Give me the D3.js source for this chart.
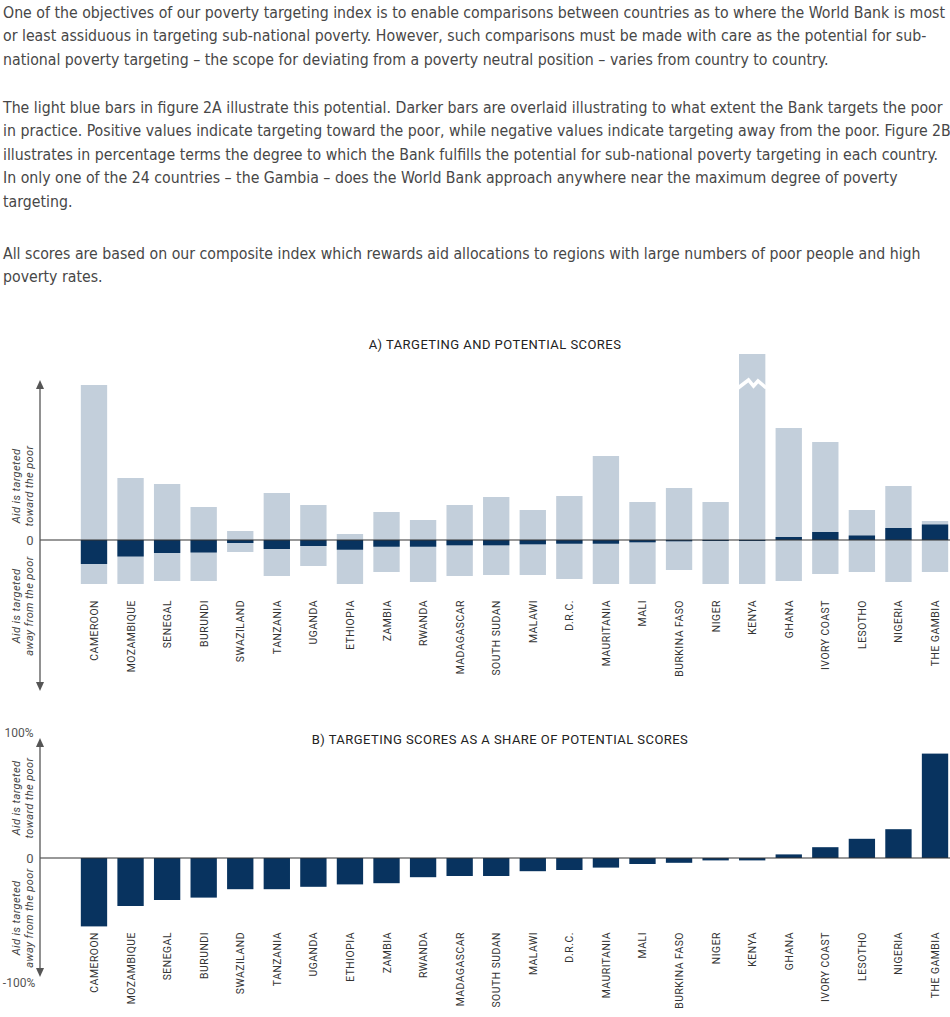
<!DOCTYPE html>
<html>
<head>
<meta charset="utf-8">
<script src="https://cdn.jsdelivr.net/npm/d3@7"></script>
<style>
  body { margin: 0; background: #fff; }
  svg { display: block; }
</style>
</head>
<body>
<script>
const countries = ["CAMEROON", "MOZAMBIQUE", "SENEGAL", "BURUNDI", "SWAZILAND", "TANZANIA", "UGANDA",
  "ETHIOPIA", "ZAMBIA", "RWANDA", "MADAGASCAR", "SOUTH SUDAN", "MALAWI", "D.R.C.", "MAURITANIA",
  "MALI", "BURKINA FASO", "NIGER", "KENYA", "GHANA", "IVORY COAST", "LESOTHO", "NIGERIA", "THE GAMBIA"];

// A) potential toward the poor (up), potential away from the poor (down), actual targeting
const potentialUp = [155, 62, 56, 33, 9, 47, 35, 6, 28, 20, 35, 43, 30, 44, 84, 38, 52, 38, 240, 112, 98, 30, 54, 19];
const potentialDown = [-44, -44, -41, -41, -12, -36, -26, -44, -32, -42, -36, -35, -35, -39, -44, -44, -30, -44, -44, -41, -34, -32, -42, -32];
const targeting = [-24, -16.5, -13, -12.5, -3, -9, -6, -9.7, -6.7, -6.7, -5.3, -5.3, -4.3, -3.7, -3.7, -2.3, -1.3, -0.9, -0.6, 3, 8, 4.5, 12, 15.5];

// B) targeting as a share of potential (%)
const share = [-57, -40, -35, -33, -26, -26, -24, -22, -21, -16, -15, -15, -11, -10, -8, -5, -4, -2, -2, 3, 9, 16, 24, 87];
const shareTicks = [{ v: 100, t: "100%" }, { v: 0, t: "0" }, { v: -100, t: "-100%" }];

const intro = [
  ["One of the objectives of our poverty targeting index is to enable comparisons between countries as to where the World Bank is most",
   "or least assiduous in targeting sub-national poverty. However, such comparisons must be made with care as the potential for sub-",
   "national poverty targeting – the scope for deviating from a poverty neutral position – varies from country to country."],
  ["The light blue bars in figure 2A illustrate this potential. Darker bars are overlaid illustrating to what extent the Bank targets the poor",
   "in practice. Positive values indicate targeting toward the poor, while negative values indicate targeting away from the poor. Figure 2B",
   "illustrates in percentage terms the degree to which the Bank fulfills the potential for sub-national poverty targeting in each country.",
   "In only one of the 24 countries – the Gambia – does the World Bank approach anywhere near the maximum degree of poverty",
   "targeting."],
  ["All scores are based on our composite index which rewards aid allocations to regions with large numbers of poor people and high",
   "poverty rates."]
];
const introTops = [18, 113, 259];

const rows = countries.map((c, i) => ({
  c, up: potentialUp[i], down: potentialDown[i], t: targeting[i], s: share[i]
}));

const W = 950, H = 1017;
const light = "#c3cfdb", dark = "#08335f", ink = "#333";
const font = "Roboto, 'Open Sans', sans-serif";

const svg = d3.select("body").append("svg").attr("width", W).attr("height", H);

// ---- intro text ----
const txt = svg.append("g").attr("class", "intro");
intro.forEach((para, p) => {
  para.forEach((line, k) => {
    txt.append("text")
      .attr("x", 0)
      .attr("y", introTops[p] + k * 23.4)
      .style("font-family", "'Liberation Sans Narrow', 'DejaVu Sans Condensed', sans-serif")
      .style("font-size", "15.5px")
      .style("fill", "#474747")
      .text(line);
  });
});
const firstW = txt.select("text").node().getComputedTextLength();
txt.attr("transform", `translate(3,0) scale(${943 / firstW},1)`);

// ---- shared x ----
const x = d3.scaleBand()
  .domain(countries)
  .range([75.7, 953.3])
  .paddingInner(0.28)
  .paddingOuter(0.14);

function arrowAxis(g, y0, y1) {
  g.append("line")
    .attr("x1", 40).attr("x2", 40).attr("y1", y0 + 6).attr("y2", y1 - 6)
    .attr("stroke", "#555").attr("stroke-width", 1.3);
  g.append("path").attr("d", `M40,${y0} L36,${y0 + 9} L44,${y0 + 9} Z`).attr("fill", "#555");
  g.append("path").attr("d", `M40,${y1} L36,${y1 - 9} L44,${y1 - 9} Z`).attr("fill", "#555");
}

function sideLabels(g, yTop, yBot) {
  [[yTop, ["Aid is targeted", "toward the poor"]], [yBot, ["Aid is targeted", "away from the poor"]]]
    .forEach(([cy, lines]) => {
      lines.forEach((l, k) => {
        g.append("text")
          .attr("transform", `translate(${20 + k * 13},${cy}) rotate(-90)`)
          .attr("text-anchor", "middle")
          .style("font-family", font)
          .style("font-style", "italic")
          .style("font-size", "11px")
          .style("letter-spacing", "0.4px")
          .style("fill", "#444")
          .text(l);
      });
    });
}

function countryLabels(g, yTop) {
  g.selectAll("text.country").data(rows).enter().append("text")
    .attr("class", "country")
    .attr("transform", (d) => `translate(${x(d.c) + x.bandwidth() / 2 + 4},${yTop}) rotate(-90)`)
    .attr("text-anchor", "end")
    .style("font-family", font)
    .style("font-size", "10.4px")
    .style("letter-spacing", "0.5px")
    .style("fill", "#333")
    .text((d) => d.c);
}

function title(g, cx, y, s) {
  g.append("text")
    .attr("x", cx).attr("y", y)
    .attr("text-anchor", "middle")
    .style("font-family", font).style("font-size", "13px")
    .style("letter-spacing", "0.45px").style("fill", "#222")
    .text(s);
}

// ---- chart A ----
const yA = d3.scaleLinear().domain([-150, 200]).range([690, 340]);
const capA = 186;
const gA = svg.append("g");

title(gA, 495, 349, "A) TARGETING AND POTENTIAL SCORES");

gA.selectAll("rect.pot").data(rows).enter().append("rect")
  .attr("class", "pot")
  .attr("x", (d) => x(d.c))
  .attr("width", x.bandwidth())
  .attr("y", (d) => yA(Math.min(d.up, capA)))
  .attr("height", (d) => yA(d.down) - yA(Math.min(d.up, capA)))
  .attr("fill", light);

gA.selectAll("rect.act").data(rows).enter().append("rect")
  .attr("class", "act")
  .attr("x", (d) => x(d.c))
  .attr("width", x.bandwidth())
  .attr("y", (d) => yA(Math.max(0, d.t)))
  .attr("height", (d) => Math.max(1, Math.abs(yA(d.t) - yA(0))))
  .attr("fill", dark);

// break mark on bars exceeding the cap
rows.filter((d) => d.up > capA).forEach((d) => {
  const x0 = x(d.c), bw = x.bandwidth(), yb = yA(capA) + 30;
  gA.append("path")
    .attr("d", `M${x0 - 1},${yb + 4} L${x0 + bw * 0.36},${yb - 4} L${x0 + bw * 0.55},${yb + 2} L${x0 + bw * 0.72},${yb - 3} L${x0 + bw + 1},${yb + 4}`)
    .attr("fill", "none").attr("stroke", "#fff").attr("stroke-width", 3.5);
});

gA.append("line")
  .attr("x1", 40).attr("x2", W).attr("y1", yA(0)).attr("y2", yA(0))
  .attr("stroke", ink).attr("stroke-width", 1.2);

arrowAxis(gA, 380, 691);
gA.append("text")
  .attr("x", 30).attr("y", yA(0)).attr("dy", "0.35em").attr("text-anchor", "middle")
  .style("font-family", font).style("font-size", "13px").style("fill", "#555").text("0");
sideLabels(gA, 486, 606);
countryLabels(gA, 600);

// ---- chart B ----
const yB = d3.scaleLinear().domain([-100, 100]).range([978, 738]);
const gB = svg.append("g");

title(gB, 500, 744, "B) TARGETING SCORES AS A SHARE OF POTENTIAL SCORES");

gB.selectAll("rect.share").data(rows).enter().append("rect")
  .attr("class", "share")
  .attr("x", (d) => x(d.c))
  .attr("width", x.bandwidth())
  .attr("y", (d) => yB(Math.max(0, d.s)))
  .attr("height", (d) => Math.max(1.5, Math.abs(yB(d.s) - yB(0))))
  .attr("fill", dark);

gB.append("line")
  .attr("x1", 40).attr("x2", W).attr("y1", yB(0)).attr("y2", yB(0))
  .attr("stroke", ink).attr("stroke-width", 1.2);

arrowAxis(gB, 738, 977);
gB.selectAll("text.tick").data(shareTicks).enter().append("text")
  .attr("class", "tick")
  .attr("x", (d) => (d.v === 0 ? 30 : 19))
  .attr("y", (d) => (d.v === 100 ? yB(d.v) - 5 : d.v === -100 ? yB(d.v) + 5 : yB(d.v)))
  .attr("dy", "0.35em")
  .attr("text-anchor", "middle")
  .style("font-family", font)
  .style("font-size", (d) => (d.v === 0 ? "13px" : "12px"))
  .style("fill", "#555")
  .text((d) => d.t);
sideLabels(gB, 798, 918);
countryLabels(gB, 932);
</script>
</body>
</html>
